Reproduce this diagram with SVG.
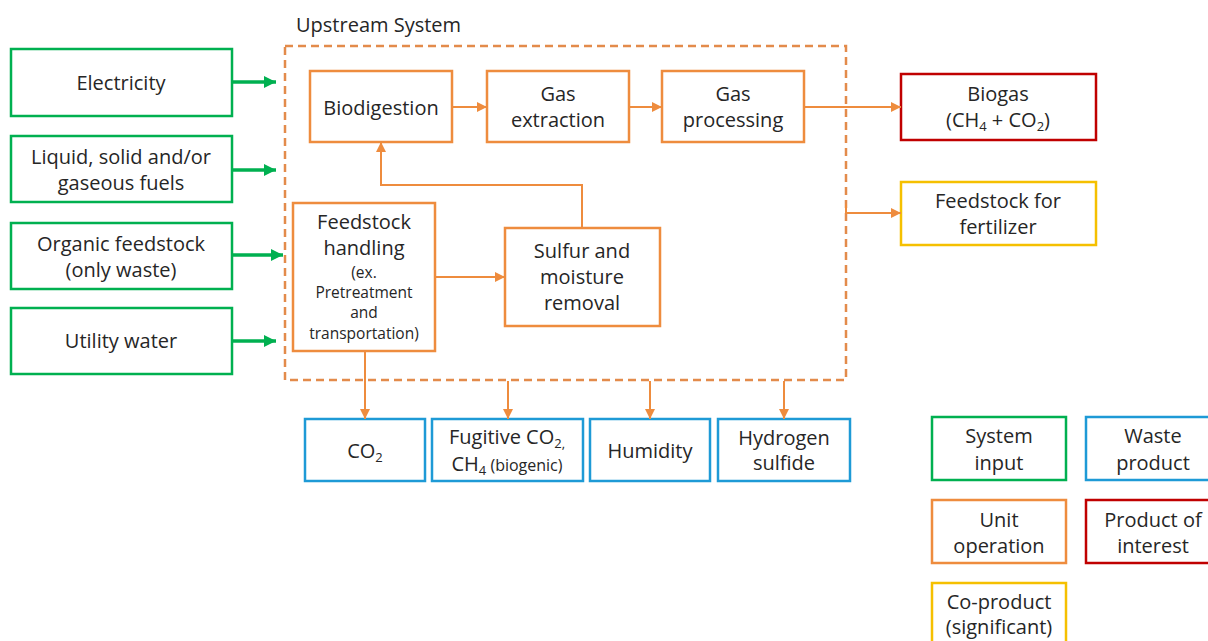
<svg xmlns="http://www.w3.org/2000/svg" width="1208" height="641" viewBox="0 0 1208 641">
<style>
  text { font-family: "Open Sans", "Noto Sans", "Liberation Sans", sans-serif; font-size: 20px; fill: #262626; text-anchor: middle; }
  .small { font-size: 15.5px; }
  .sub { font-size: 13px; }
  .title { text-anchor: start; }
  rect { fill: #ffffff; stroke-width: 2.5; }
  .in { stroke: #00B050; }
  .unit { stroke: #EE8C3E; }
  .waste { stroke: #1E9AD6; }
  .prod { stroke: #C00000; }
  .co { stroke: #F5C000; }
  .sys { fill: none; stroke: #E38B4B; stroke-width: 2.5; stroke-dasharray: 8 5; }
  .ga { fill: none; stroke: #00B050; stroke-width: 3.5; marker-end: url(#gh); }
  .oa { fill: none; stroke: #EE8C3E; stroke-width: 2; marker-end: url(#oh); }
</style>
<defs>
  <marker id="gh" markerUnits="userSpaceOnUse" markerWidth="12" markerHeight="12" refX="12" refY="6" orient="auto">
    <path d="M0,0 L12,6 L0,12 z" fill="#00B050"/>
  </marker>
  <marker id="oh" markerUnits="userSpaceOnUse" markerWidth="10" markerHeight="10" refX="10" refY="5" orient="auto">
    <path d="M0,0 L10,5 L0,10 z" fill="#EE8C3E"/>
  </marker>
</defs>
<rect width="1208" height="641" fill="#ffffff" stroke="none"/>

<g id="upstream-system">
  <rect class="sys" x="285" y="46" width="561" height="334"/>
  <text class="title" x="296" y="32">Upstream System</text>
</g>

<g id="electricity"><rect class="in" x="11" y="49" width="221" height="67"/><text x="121" y="90">Electricity</text></g>
<g id="fuels"><rect class="in" x="11" y="136" width="221" height="66"/><text x="121" y="164">Liquid, solid and/or</text><text x="121" y="190">gaseous fuels</text></g>
<g id="organic"><rect class="in" x="11" y="223" width="221" height="66"/><text x="121" y="251">Organic feedstock</text><text x="121" y="277">(only waste)</text></g>
<g id="water"><rect class="in" x="11" y="308" width="221" height="66"/><text x="121" y="348">Utility water</text></g>

<g id="biodigestion"><rect class="unit" x="310" y="71" width="142" height="71"/><text x="381" y="115">Biodigestion</text></g>
<g id="gas-extraction"><rect class="unit" x="487" y="71" width="142" height="71"/><text x="558" y="101">Gas</text><text x="558" y="127">extraction</text></g>
<g id="gas-processing"><rect class="unit" x="662" y="71" width="142" height="71"/><text x="733" y="101">Gas</text><text x="733" y="127">processing</text></g>
<g id="feedstock-handling"><rect class="unit" x="293" y="203" width="142" height="148"/>
  <text x="364" y="229">Feedstock</text><text x="364" y="255">handling</text>
  <text class="small" x="364" y="278">(ex.</text><text class="small" x="364" y="298">Pretreatment</text><text class="small" x="364" y="318">and</text><text class="small" x="364" y="339">transportation)</text>
</g>
<g id="sulfur-removal"><rect class="unit" x="505" y="228" width="155" height="98"/><text x="582" y="258">Sulfur and</text><text x="582" y="284">moisture</text><text x="582" y="310">removal</text></g>

<g id="biogas"><rect class="prod" x="901" y="74" width="195" height="66"/><text x="998" y="101">Biogas</text><text x="998" y="127">(CH<tspan class="sub" dy="4">4</tspan><tspan dy="-4"> + CO</tspan><tspan class="sub" dy="4">2</tspan><tspan dy="-4">)</tspan></text></g>
<g id="fertilizer"><rect class="co" x="901" y="182" width="195" height="63"/><text x="998" y="208">Feedstock for</text><text x="998" y="234">fertilizer</text></g>

<g id="co2"><rect class="waste" x="305" y="419" width="120" height="62"/><text x="365" y="458">CO<tspan class="sub" dy="4">2</tspan></text></g>
<g id="fugitive"><rect class="waste" x="432" y="419" width="151" height="62"/><text x="507" y="444">Fugitive CO<tspan class="sub" dy="4">2,</tspan></text><text x="507" y="471">CH<tspan class="sub" dy="4">4</tspan><tspan dy="-4" font-size="16"> (biogenic)</tspan></text></g>
<g id="humidity"><rect class="waste" x="590" y="419" width="120" height="62"/><text x="650" y="458">Humidity</text></g>
<g id="hydrogen-sulfide"><rect class="waste" x="718" y="419" width="132" height="62"/><text x="784" y="445">Hydrogen</text><text x="784" y="470">sulfide</text></g>

<g id="legend-input"><rect class="in" x="932" y="417" width="134" height="63"/><text x="999" y="443">System</text><text x="999" y="470">input</text></g>
<g id="legend-waste"><rect class="waste" x="1086" y="417" width="134" height="63"/><text x="1153" y="443">Waste</text><text x="1153" y="470">product</text></g>
<g id="legend-unit"><rect class="unit" x="932" y="500" width="134" height="63"/><text x="999" y="527">Unit</text><text x="999" y="553">operation</text></g>
<g id="legend-product"><rect class="prod" x="1086" y="500" width="134" height="63"/><text x="1153" y="527">Product of</text><text x="1153" y="553">interest</text></g>
<g id="legend-coproduct"><rect class="co" x="932" y="583" width="134" height="64"/><text x="999" y="609">Co-product</text><text x="999" y="634">(significant)</text></g>

<g id="connectors">
  <path class="ga" d="M232,82 H276"/>
  <path class="ga" d="M232,170 H276"/>
  <path class="ga" d="M232,255 H283"/>
  <path class="ga" d="M232,341 H276"/>
  <path class="oa" d="M452,107 H487"/>
  <path class="oa" d="M629,107 H662"/>
  <path class="oa" d="M804,107 H901"/>
  <path class="oa" d="M846,204 V213 H901"/>
  <path class="oa" d="M435,277 H505"/>
  <path class="oa" d="M582,228 V185 H381 V142"/>
  <path class="oa" d="M365,351 V419"/>
  <path class="oa" d="M508,381 V419"/>
  <path class="oa" d="M650,381 V419"/>
  <path class="oa" d="M784,381 V419"/>
</g>
</svg>
